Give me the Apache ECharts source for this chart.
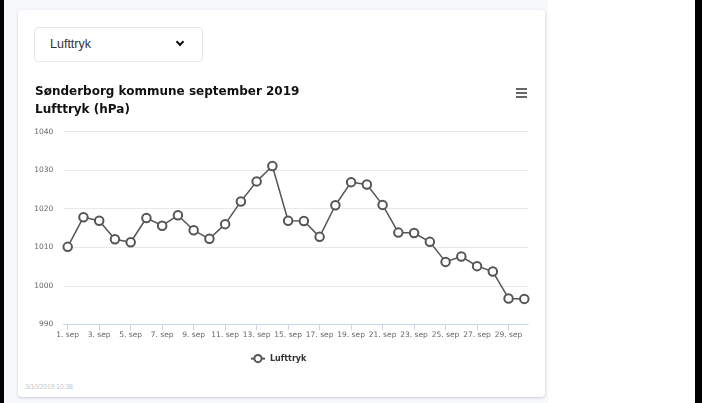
<!DOCTYPE html>
<html>
<head>
<meta charset="utf-8">
<script src="https://cdn.jsdelivr.net/npm/echarts@6/dist/echarts.min.js"></script>
<style>
  html, body { margin:0; padding:0; width:702px; height:403px; overflow:hidden; background:#fff; }
  #barL { position:absolute; left:0; top:0; width:4px; height:403px; background:#000; }
  #barR { position:absolute; left:695px; top:0; width:7px; height:403px; background:#000; }
  #bg { position:absolute; left:4px; top:0; width:544px; height:403px; background:#f6f8fb; }
  #card { position:absolute; left:18px; top:10px; width:527px; height:387px; background:#fff;
          border-radius:4px; box-shadow:0 1px 3px rgba(120,130,150,0.35); }
  #dd { position:absolute; left:34px; top:27px; width:167px; height:33px; border:1px solid #e3e6ea;
        border-radius:4px; background:#fff; font-family:"Liberation Sans", Arial, sans-serif; font-size:12.5px; color:#333; }
  #dd span { position:absolute; left:15px; top:9px; }
  #chev { position:absolute; left:142px; top:11px; width:4px; height:4px; border-right:2px solid #111; border-bottom:2px solid #111; transform:rotate(45deg); }
  #foot { position:absolute; left:25px; top:383px; font-family:"Liberation Sans", Arial, sans-serif; font-size:7px; color:#c8c8c8; letter-spacing:-0.2px; }
  #chart { position:absolute; left:0; top:0; width:702px; height:403px; }
</style>
</head>
<body>
<div id="barL"></div>
<div id="bg"></div>
<div id="card"></div>
<div id="barR"></div>
<div id="dd"><span>Lufttryk</span><div id="chev"></div></div>
<div id="foot">3/10/2019 10:38</div>
<div id="chart"></div>
<script>
const titleLine1 = "Sønderborg kommune september 2019";
const titleLine2 = "Lufttryk (hPa)";
const seriesName = "Lufttryk";
const days = ["1. sep","2. sep","3. sep","4. sep","5. sep","6. sep","7. sep","8. sep","9. sep","10. sep",
  "11. sep","12. sep","13. sep","14. sep","15. sep","16. sep","17. sep","18. sep","19. sep","20. sep",
  "21. sep","22. sep","23. sep","24. sep","25. sep","26. sep","27. sep","28. sep","29. sep","30. sep"];
const pressure = [1010.1,1017.8,1016.9,1012.1,1011.3,1017.6,1015.6,1018.3,1014.4,1012.2,
  1016.0,1021.9,1027.1,1031.1,1016.9,1016.8,1012.7,1020.9,1026.9,1026.3,
  1021.0,1013.8,1013.7,1011.4,1006.2,1007.6,1005.1,1003.7,996.7,996.6];
const yMin = 990, yMax = 1040, yStep = 10;

const chart = echarts.init(document.getElementById('chart'), null, {renderer:'canvas'});
const axisFont = { fontFamily:'DejaVu Sans', fontSize:7.5, color:'#666' };
chart.setOption({
  animation:false,
  title:{ text: titleLine1 + "\n" + titleLine2, left:35, top:83, padding:0,
    textStyle:{ fontFamily:'DejaVu Sans', fontWeight:'bold', fontSize:12, lineHeight:18, color:'#111' } },
  legend:{ data:[seriesName], left:250, top:354, padding:0, itemWidth:14, itemHeight:9, itemGap:10,
    textStyle:{ fontFamily:'DejaVu Sans', fontWeight:'bold', fontSize:8, color:'#333' } },
  grid:[
    { left:63.3, right:173.7, top:131.7, bottom:78.7 },
    { left:67.7, right:177.7, top:131.7, bottom:78.7 }
  ],
  xAxis:[
    { gridIndex:0, type:'value', min:0, max:1, axisLabel:{show:false}, axisTick:{show:false}, splitLine:{show:false},
      axisLine:{ show:true, lineStyle:{ color:'#ccd6eb', width:1 } } },
    { gridIndex:1, type:'category', data:days, boundaryGap:false,
      axisLine:{show:false},
      axisTick:{ show:true, interval:1, length:6, lineStyle:{ color:'#ccd6eb' } },
      axisLabel:Object.assign({ interval:1, margin:7 }, axisFont) }
  ],
  yAxis:[
    { gridIndex:0, type:'value', min:yMin, max:yMax, interval:yStep,
      axisLine:{show:false}, axisTick:{show:false},
      axisLabel:Object.assign({ margin:10, formatter: v => String(v) }, axisFont),
      splitLine:{ lineStyle:{ color:'#e9e9e9', width:1 } } },
    { gridIndex:1, type:'value', min:yMin, max:yMax, interval:yStep, show:false, splitLine:{show:false} }
  ],
  graphic:[
    { type:'rect', left:516, top:88, shape:{width:11, height:2}, style:{fill:'#666'} },
    { type:'rect', left:516, top:92, shape:{width:11, height:2}, style:{fill:'#666'} },
    { type:'rect', left:516, top:96, shape:{width:11, height:2}, style:{fill:'#666'} }
  ],
  series:[{
    name:seriesName, type:'line', xAxisIndex:1, yAxisIndex:1, data:pressure,
    symbol:'emptyCircle', symbolSize:8.5,
    lineStyle:{ color:'#555', width:1.5 },
    itemStyle:{ color:'#555', borderColor:'#555', borderWidth:1.3 }
  }]
});
</script>
</body>
</html>
